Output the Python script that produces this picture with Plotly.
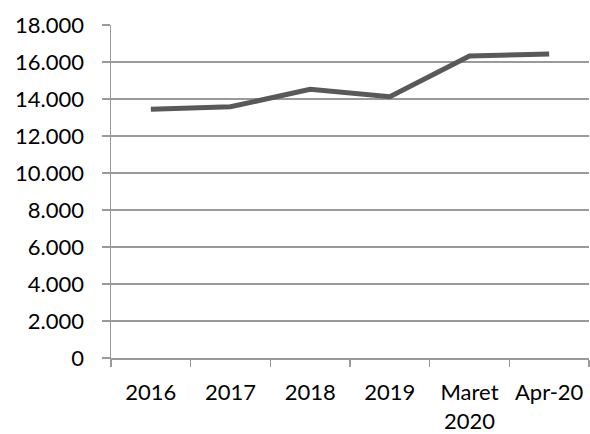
import plotly.graph_objects as go

categories = ["2016", "2017", "2018", "2019", "Maret<br>2020", "Apr-20"]
values = [13440, 13580, 14520, 14120, 16320, 16430]
y_ticks = [0, 2000, 4000, 6000, 8000, 10000, 12000, 14000, 16000, 18000]

fig = go.Figure()
fig.add_trace(go.Scatter(
    x=categories, y=values, mode="lines",
    line=dict(color="#595959", width=5),
    showlegend=False, hoverinfo="skip",
))

fig.update_layout(
    width=590, height=434,
    margin=dict(l=111, r=1, t=25, b=76),
    paper_bgcolor="white", plot_bgcolor="white",
    separators=",.",
    font=dict(family="Lato, Open Sans, sans-serif", size=22, color="black"),
)
fig.update_xaxes(
    type="category", tickson="boundaries", ticks="outside", ticklen=7,
    range=[-0.5, 5.5], automargin=False,
    tickcolor="#9a9a9a", tickwidth=1.5,
    showline=True, linecolor="#9a9a9a", linewidth=1.5,
    showgrid=False, ticklabelstandoff=14,
)
fig.update_yaxes(
    range=[0, 18000], tickvals=y_ticks, tickformat=",d", automargin=False,
    ticks="outside", ticklen=8, tickcolor="#9a9a9a", tickwidth=1.5,
    showline=True, linecolor="#9a9a9a", linewidth=1.5,
    showgrid=True, gridcolor="#9a9a9a", gridwidth=1.5,
    zeroline=False, ticklabelstandoff=13,
)

fig.write_html(
    "out.html",
    config={"displayModeBar": False, "staticPlot": True},
    post_script="document.body.style.margin='0';document.body.style.overflow='hidden';",
)
